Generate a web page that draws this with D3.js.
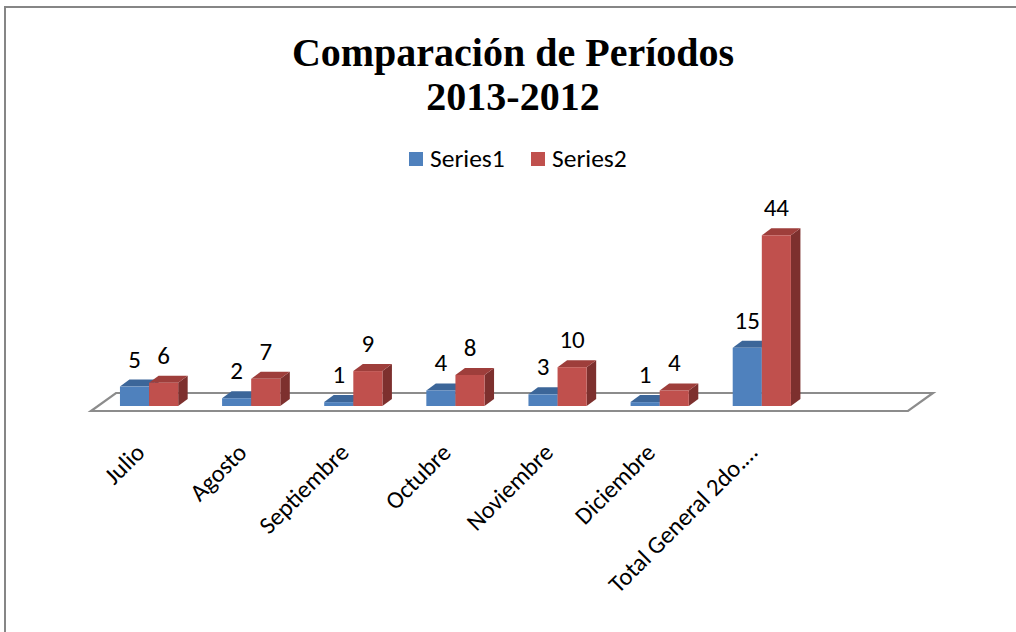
<!DOCTYPE html>
<html>
<head>
<meta charset="utf-8">
<script src="https://cdn.jsdelivr.net/npm/d3@7"></script>
<style>
  html, body { margin: 0; padding: 0; background: #fff; }
  svg { display: block; }
</style>
</head>
<body>
<svg id="chart" width="1016" height="632"></svg>
<script>
// ---- data ----
const categories = ["Julio", "Agosto", "Septiembre", "Octubre", "Noviembre", "Diciembre", "Total General 2do.…", ""];
const series1 = [5, 2, 1, 4, 3, 1, 15, null];
const series2 = [6, 7, 9, 8, 10, 4, 44, null];
const seriesNames = ["Series1", "Series2"];
const titleLines = ["Comparación de Períodos", "2013-2012"];

// ---- styles ----
const colors = [
  { front: "#4F81BD", top: "#3C6699", side: "#2F527C" },
  { front: "#C0504D", top: "#9E3E3B", side: "#7D302E" }
];
const sansFont = "Carlito, 'Open Sans', 'Noto Sans', sans-serif";

const svg = d3.select("#chart");

// chart border
svg.append("rect")
  .attr("x", 5).attr("y", 7).attr("width", 1100).attr("height", 700)
  .attr("fill", "#fff").attr("stroke", "#868686").attr("stroke-width", 2);

// title
const title = svg.append("text")
  .attr("text-anchor", "middle")
  .attr("font-family", "'Liberation Serif', 'DejaVu Serif', serif")
  .attr("font-weight", "bold")
  .attr("font-size", 40)
  .attr("fill", "#000");
title.selectAll("tspan").data(titleLines).join("tspan")
  .attr("x", 513)
  .attr("y", (d, i) => 66 + i * 44)
  .text(d => d);

// legend
const legend = svg.append("g").attr("font-family", sansFont).attr("font-size", 25.5);
const legendX = [409, 531];
seriesNames.forEach((name, i) => {
  legend.append("rect")
    .attr("x", legendX[i]).attr("y", 152).attr("width", 14).attr("height", 14)
    .attr("fill", colors[i].front);
  legend.append("text")
    .attr("x", legendX[i] + 21).attr("y", 167)
    .attr("fill", "#000")
    .text(name);
});

// scales
const x = d3.scaleBand()
  .domain(d3.range(categories.length))
  .range([98, 915])
  .paddingInner(0.43)
  .paddingOuter(0.215);
const xs = d3.scaleBand().domain([0, 1]).range([0, x.bandwidth()]);
const y = d3.scaleLinear().domain([0, 50]).range([406, 212]);

// 3D depth offsets
const dX = 9.5, dY = -7;           // bar depth
const fFrontDX = -7, fFrontDY = 5;  // floor front edge relative to bar front plane
const fDX = 25, fDY = -18;          // floor depth

// floor
const r = x.range();
const y0 = y(0);
const fl = [
  [r[0] + fFrontDX, y0 + fFrontDY],
  [r[1] + fFrontDX, y0 + fFrontDY],
  [r[1] + fFrontDX + fDX, y0 + fFrontDY + fDY],
  [r[0] + fFrontDX + fDX, y0 + fFrontDY + fDY]
];
svg.append("polygon")
  .attr("points", fl.map(p => p.join(",")).join(" "))
  .attr("fill", "none")
  .attr("stroke", "#8C8C8C")
  .attr("stroke-width", 2.2)
  .attr("stroke-linejoin", "miter");

// bars
const bars = svg.append("g");
const labels = svg.append("g")
  .attr("font-family", sansFont).attr("font-size", 25)
  .attr("text-anchor", "middle").attr("fill", "#000");
const allSeries = [series1, series2];

categories.forEach((cat, ci) => {
  allSeries.forEach((vals, si) => {
    const v = vals[ci];
    if (v == null) return;
    const x0 = x(ci) + xs(si);
    const w = xs.bandwidth();
    const yt = y(v), yb = y(0);
    const c = colors[si];
    const g = bars.append("g");
    // side
    g.append("polygon")
      .attr("points", [[x0 + w, yt], [x0 + w + dX, yt + dY], [x0 + w + dX, yb + dY], [x0 + w, yb]].map(p => p.join(",")).join(" "))
      .attr("fill", c.side);
    // top
    g.append("polygon")
      .attr("points", [[x0, yt], [x0 + dX, yt + dY], [x0 + w + dX, yt + dY], [x0 + w, yt]].map(p => p.join(",")).join(" "))
      .attr("fill", c.top);
    // front
    g.append("rect")
      .attr("x", x0).attr("y", yt).attr("width", w).attr("height", yb - yt)
      .attr("fill", c.front);
    labels.append("text")
      .attr("x", x0 + w / 2)
      .attr("y", yt - 19)
      .text(v);
  });
});

// category labels
const catG = svg.append("g")
  .attr("font-family", sansFont).attr("font-size", 24.5).attr("fill", "#000");
categories.forEach((cat, ci) => {
  if (!cat) return;
  const cx = x(ci) + x.bandwidth() / 2 - 3;
  const cy = 454;
  catG.append("text")
    .attr("text-anchor", "end")
    .attr("transform", `translate(${cx},${cy}) rotate(-45)`)
    .text(cat);
});
</script>
</body>
</html>
